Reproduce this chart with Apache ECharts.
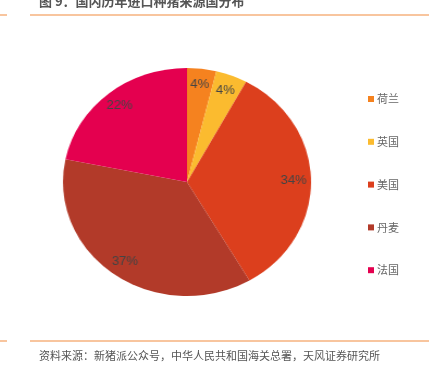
<!DOCTYPE html>
<html>
<head>
<meta charset="utf-8">
<script src="https://cdn.jsdelivr.net/npm/echarts@6/dist/echarts.min.js"></script>
<style>
	html, body { margin:0; padding:0; background:#fff; }
	#main { position:absolute; left:0; top:0; width:429px; height:368px; }
	#pie { position:absolute; left:67px; top:62px; width:240px; height:240px; transform:scaleX(1.088); transform-origin:50% 50%; }
</style>
</head>
<body>
<div id="main"></div>
<div id="pie"></div>
<script>
	// 来源国及占比（%）
	var countries = ['荷兰', '英国', '美国', '丹麦', '法国'];
	var shares = [3.8, 4.1, 33.7, 36.6, 21.8];
	var colors = ['#f5821f', '#fbbb2f', '#dc3f1d', '#b23a29', '#e4004f'];

	var titleText = '图 9：国内历年进口种猪来源国分布';
	var sourceText = '资料来源：新猪派公众号，中华人民共和国海关总署，天风证券研究所';
	var fontCJK = '"Noto Sans CJK SC", sans-serif';

	var pieData = [];
	for (var i = 0; i < countries.length; i++) {
		pieData.push({ name: countries[i], value: shares[i] });
	}

	// 主图：标题、图例、来源
	var mainChart = echarts.init(document.getElementById('main'));
	mainChart.setOption({
		color: colors,
		animation: false,
		legend: {
			orient: 'vertical',
			left: 363,
			top: 87,
			icon: 'rect',
			itemWidth: 6,
			itemHeight: 6,
			itemGap: 28.8,
			data: countries,
			textStyle: {
				fontSize: 11,
				color: '#666',
				fontFamily: fontCJK,
				lineHeight: 14,
				padding: [0, 0, 0, -2]
			}
		},
		series: [{
			// 仅用于图例
			type: 'pie',
			radius: [0, 0],
			center: [-100, -100],
			label: { show: false },
			data: pieData
		}],
		graphic: [
			{ type: 'text', left: 39, top: -5, style: { text: titleText, fontSize: 13, fontWeight: 'bold', fill: '#555', fontFamily: fontCJK } },
			{ type: 'line', shape: { x1: 0, y1: 15, x2: 7, y2: 15 }, style: { stroke: '#f6b27e', lineWidth: 1.5 } },
			{ type: 'line', shape: { x1: 30, y1: 15, x2: 429, y2: 15 }, style: { stroke: '#f6b27e', lineWidth: 1.5 } },
			{ type: 'line', shape: { x1: 0, y1: 341, x2: 7, y2: 341 }, style: { stroke: '#f6b27e', lineWidth: 1.5 } },
			{ type: 'line', shape: { x1: 30, y1: 341, x2: 429, y2: 341 }, style: { stroke: '#f6b27e', lineWidth: 1.5 } },
			{ type: 'text', left: 39, top: 350, style: { text: sourceText, fontSize: 11, fill: '#555', fontFamily: fontCJK } }
		]
	});

	// 饼图（横向略拉伸）
	var pieChart = echarts.init(document.getElementById('pie'));
	pieChart.setOption({
		color: colors,
		animation: false,
		series: [{
			type: 'pie',
			center: ['50%', '50%'],
			radius: [0, 114],
			startAngle: 90,
			clockwise: true,
			label: { show: false },
			labelLine: { show: false },
			itemStyle: { borderWidth: 0 },
			data: pieData
		}, {
			// 标签层
			type: 'pie',
			center: ['50%', '50%'],
			radius: [76, 114],
			startAngle: 90,
			clockwise: true,
			silent: true,
			itemStyle: { color: 'rgba(0,0,0,0)' },
			label: {
				show: true,
				position: 'inside',
				fontSize: 12,
				color: '#444',
				fontFamily: 'Arial, "Liberation Sans", sans-serif',
				formatter: function (p) { return Math.round(p.value) + '%'; }
			},
			labelLine: { show: false },
			data: pieData
		}]
	});
</script>
</body>
</html>
